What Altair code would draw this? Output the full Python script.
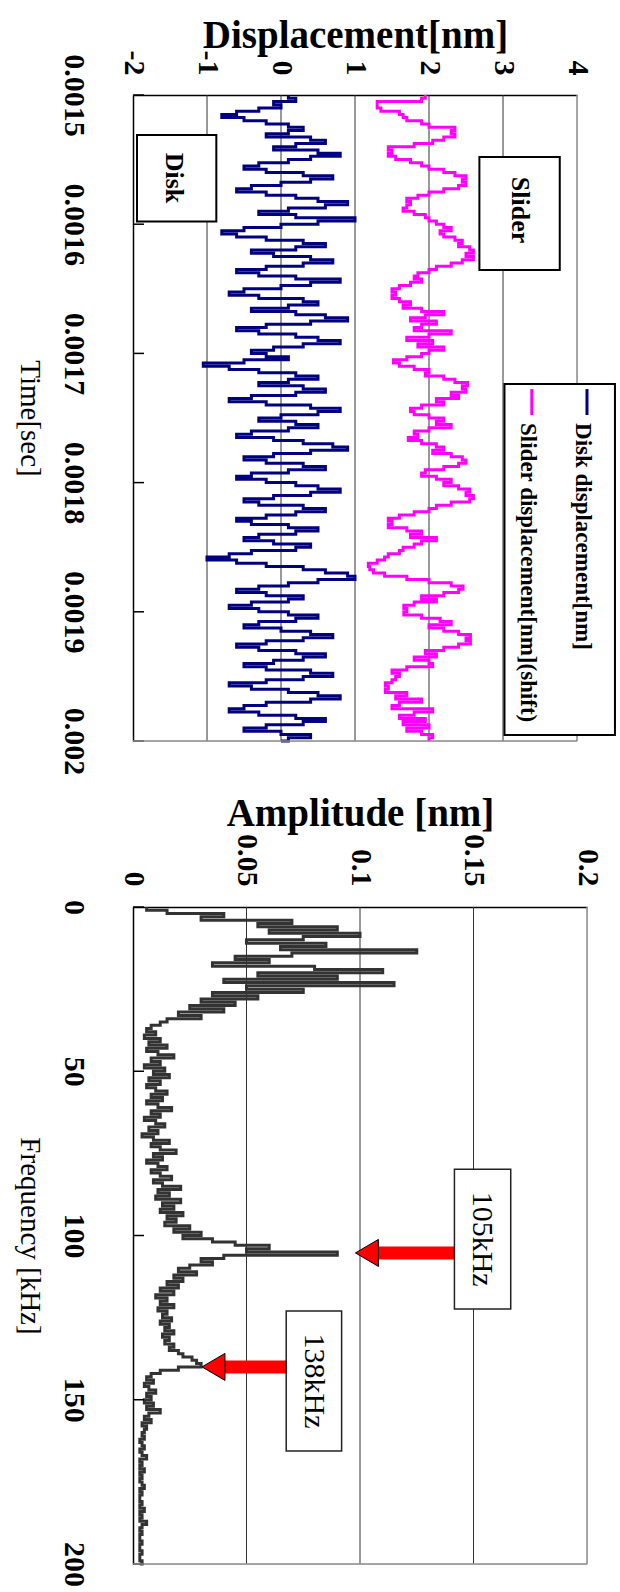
import altair as alt
import pandas as pd

FONT = "Liberation Serif"

# ---------------- data: time-domain displacement (2.5 us sampling) ----------------
time_s = [round(0.0015 + i * 0.0000025, 8) for i in range(201)]

disk = [
    0.1, 0.2, -0.1, 0.0, -0.3, -0.6, -0.8, -0.5, -0.2, 0.1,
    0.3, 0.1, -0.2, 0.4, 0.6, 0.2, -0.1, 0.5, 0.8, 0.4,
    0.1, -0.3, -0.5, -0.2, 0.3, 0.7, 0.4, 0.0, -0.4, -0.6,
    -0.2, 0.2, 0.5, 0.9, 0.6, 0.1, -0.3, 0.2, 1.0, 0.5,
    0.0, -0.5, -0.8, -0.6, -0.2, 0.3, 0.6, 0.2, -0.4, -0.1,
    0.4, 0.7, 0.3, -0.2, -0.6, -0.3, 0.2, 0.8, 0.4, 0.0,
    -0.5, -0.7, -0.3, 0.3, 0.5, 0.1, -0.4, 0.2, 0.6, 0.9,
    0.4, -0.2, -0.6, -0.3, 0.2, 0.5, 0.8, 0.3, -0.1, -0.4,
    -0.2, 0.1, -0.5, -1.05, -0.7, -0.3, 0.2, 0.5, 0.1, -0.3,
    0.3, 0.6, 0.2, -0.4, -0.7, -0.2, 0.4, 0.8, 0.5, 0.0,
    -0.3, 0.2, 0.5, 0.1, -0.4, -0.6, -0.1, 0.3, 0.7, 0.9,
    0.4, -0.1, -0.5, -0.2, 0.3, 0.6, 0.1, -0.4, -0.6, -0.2,
    0.2, 0.5, 0.8, 0.4, -0.1, -0.5, -0.3, 0.3, 0.6, 0.2,
    -0.2, -0.6, -0.4, 0.1, 0.5, 0.2, -0.3, -0.5, -0.1, 0.4,
    0.2, -0.4, -0.7, -1.0, -0.6, -0.2, 0.3, 0.6, 0.9, 1.0,
    0.5, 0.1, -0.3, -0.6, -0.2, 0.3, 0.1, -0.4, -0.7, -0.3,
    0.1, 0.5, 0.2, -0.3, -0.5, 0.0, 0.4, 0.7, 0.3, -0.2,
    -0.6, -0.3, 0.2, 0.6, 0.3, -0.1, -0.5, -0.2, 0.4, 0.7,
    0.3, -0.2, -0.7, -0.4, 0.1, 0.5, 0.8, 0.4, -0.2, -0.5,
    -0.7, -0.3, 0.2, 0.6, 0.3, -0.2, -0.5, 0.0, 0.4, 0.1,
    0.0,
]

slider = [
    1.95, 1.9, 1.3, 1.3, 1.35, 1.6, 1.65, 1.7, 1.9, 2.0,
    2.35, 2.3, 2.35, 2.2, 2.05, 1.8, 1.45, 1.5, 1.45, 1.55,
    1.75, 1.9, 2.0, 2.2, 2.35, 2.5, 2.45, 2.5, 2.4, 2.2,
    2.0, 1.85, 1.7, 1.75, 1.7, 1.65, 1.8, 1.95, 2.0, 2.1,
    2.2, 2.3, 2.15, 2.2, 2.35, 2.45, 2.4, 2.55, 2.6, 2.5,
    2.6, 2.45, 2.3, 2.1, 2.0, 1.85, 1.8, 1.9, 1.75, 1.6,
    1.5, 1.55, 1.5, 1.6, 1.75, 1.65, 1.9, 2.2, 1.95, 1.75,
    2.1, 1.9, 1.8, 2.3, 2.0, 1.7, 2.05, 1.85, 2.2, 2.0,
    1.9, 1.7, 1.52, 1.6, 1.8, 2.0, 1.95, 2.2, 2.35, 2.52,
    2.45, 2.5, 2.3, 2.4, 2.1, 2.2, 1.9, 1.75, 1.8, 2.0,
    2.2, 2.1, 2.3, 2.0, 1.8, 1.85, 1.72, 1.9, 2.1, 2.2,
    2.05, 2.3, 2.45, 2.5, 2.4, 2.2, 1.95, 1.9, 2.1, 2.3,
    2.2, 2.4, 2.55, 2.5, 2.6, 2.55, 2.3, 2.1, 2.0, 1.8,
    1.6, 1.45, 1.5, 1.45, 1.7, 1.9, 1.75, 2.1, 1.9, 1.8,
    1.65, 1.6, 1.45, 1.4, 1.3, 1.18, 1.2, 1.25, 1.4, 1.7,
    2.0, 2.3, 2.46, 2.4, 2.2, 1.9, 2.1, 1.8, 1.66, 1.7,
    1.66, 1.9, 2.15, 2.3, 2.0, 2.2, 2.4, 2.56, 2.5, 2.56,
    2.4, 2.2, 1.95, 2.1, 1.8, 2.0, 2.05, 1.7, 1.5, 1.6,
    1.55, 1.5, 1.41, 1.45, 1.41, 1.7, 1.55, 1.9, 1.6, 1.5,
    2.05, 1.8, 1.6, 1.95, 1.65, 2.0, 1.7, 1.9, 2.05, 2.0,
    2.0,
]

series_names = ["Disk displacement[nm]", "Slider displacement[nm](shift)"]
series_colors = ["#000080", "#FF00FF"]
time_ticks = [0.0015, 0.0016, 0.0017, 0.0018, 0.0019, 0.002]
disp_ticks = [-2, -1, 0, 1, 2, 3, 4]
disp_grid = [-1, 0, 1, 2, 3]

# ---------------- data: spectrum ----------------
freq_khz = list(range(0, 201))
amplitude = [
    0.006, 0.015, 0.04, 0.03, 0.07, 0.055, 0.09, 0.06, 0.1, 0.075,
    0.05, 0.085, 0.065, 0.125, 0.07, 0.045, 0.06, 0.035, 0.08, 0.11,
    0.055, 0.09, 0.04, 0.115, 0.05, 0.075, 0.035, 0.055, 0.03, 0.045,
    0.025, 0.04, 0.02, 0.03, 0.015, 0.012, 0.008, 0.006, 0.01, 0.005,
    0.012, 0.007, 0.015, 0.006, 0.011, 0.018, 0.008, 0.012, 0.005, 0.014,
    0.009, 0.016, 0.007, 0.012, 0.006, 0.01, 0.015, 0.008, 0.013, 0.006,
    0.011, 0.017, 0.008, 0.012, 0.005, 0.01, 0.014, 0.007, 0.011, 0.004,
    0.009, 0.016, 0.008, 0.012, 0.019, 0.009, 0.013, 0.006, 0.011, 0.015,
    0.008, 0.012, 0.017, 0.009, 0.013, 0.021, 0.011, 0.016, 0.01, 0.021,
    0.013, 0.018, 0.012, 0.022, 0.015, 0.019, 0.014, 0.025, 0.018, 0.03,
    0.022, 0.035, 0.045, 0.06, 0.05, 0.09, 0.04, 0.03, 0.035, 0.025,
    0.02, 0.028, 0.018, 0.022, 0.015, 0.02, 0.012, 0.018, 0.01, 0.015,
    0.012, 0.018, 0.011, 0.015, 0.013, 0.017, 0.012, 0.016, 0.014, 0.018,
    0.013, 0.016, 0.014, 0.018, 0.016, 0.02, 0.022, 0.026, 0.028, 0.03,
    0.02, 0.012, 0.008, 0.006, 0.009, 0.005, 0.007, 0.01, 0.006, 0.008,
    0.005, 0.009, 0.006, 0.012, 0.007, 0.005, 0.008, 0.004, 0.006, 0.005,
    0.004, 0.005, 0.003, 0.004, 0.005, 0.003, 0.004, 0.006, 0.003, 0.004,
    0.003, 0.005, 0.003, 0.004, 0.003, 0.004, 0.005, 0.003, 0.004, 0.003,
    0.003, 0.004, 0.003, 0.005, 0.003, 0.004, 0.003, 0.006, 0.004, 0.003,
    0.004, 0.003, 0.003, 0.004, 0.003, 0.003, 0.004, 0.003, 0.003, 0.004,
    0.003,
]
freq_ticks = [0, 50, 100, 150, 200]
amp_ticks = [0, 0.05, 0.1, 0.15, 0.2]
amp_grid = [0.05, 0.1, 0.15]

# ---------------- annotations (data coordinates) ----------------
top_boxes = pd.DataFrame({
    "x0": [-1.946, 2.681], "x1": [-0.874, 3.767],
    "t0": [0.001531, 0.001548], "t1": [0.001598, 0.0016354],
})
top_texts = pd.DataFrame({"x": [-1.443, 3.226], "t": [0.0015642, 0.001589], "label": ["Disk", "Slider"]})
legend_box = pd.DataFrame({"x0": [3.02], "x1": [4.513], "t0": [0.0017237], "t1": [0.0019954]})
legend_sym = pd.DataFrame({"x": [4.135, 3.389], "t0": [0.0017276, 0.0017276], "t1": [0.0017477, 0.0017477],
                           "s": series_names})
legend_txt = pd.DataFrame({"x": [4.08, 3.335], "t": [0.0017539, 0.0017539], "label": series_names})

bot_boxes = pd.DataFrame({"a0": [0.1416, 0.0675], "a1": [0.1664, 0.0919],
                          "f0": [79.8, 123.0], "f1": [122.4, 165.6]})
bot_texts = pd.DataFrame({"a": [0.1538, 0.0797], "f": [101.1, 144.3], "label": ["105kHz", "138kHz"]})
arrows = pd.DataFrame({"tip": [0.098, 0.0304], "tail": [0.1416, 0.0675], "f": [105.3, 140.0]})

# ---------------- shared axes ----------------
lab = dict(labelAngle=90, labelFont=FONT, labelFontSize=30, labelFontWeight="bold", labelColor="black",
           grid=False, ticks=False, domainColor="black", domainWidth=1.5)

x_axis_top = alt.Axis(orient="top", values=disp_ticks, title="Displacement[nm]",
                      labelExpr="toString(datum.value)",
                      labelAlign="right", labelBaseline="middle", labelPadding=20,
                      titleFont=FONT, titleFontSize=39, titleFontWeight="bold", titleColor="black",
                      titlePadding=-5, **lab)
y_axis_top = alt.Axis(values=time_ticks, format=".4~f", title="Time[sec]",
                      labelAlign="center", labelBaseline="top", labelPadding=45,
                      titleFont=FONT, titleFontSize=29, titleFontWeight="normal", titleColor="black",
                      titleAngle=90, titleBaseline="top", titlePadding=15, **lab)
x_axis_bot = alt.Axis(orient="top", values=amp_ticks, title="Amplitude [nm]",
                      labelExpr="toString(datum.value)",
                      labelAlign="right", labelBaseline="middle", labelPadding=21,
                      titleFont=FONT, titleFontSize=39, titleFontWeight="bold", titleColor="black",
                      titlePadding=0, **lab)
y_axis_bot = alt.Axis(values=freq_ticks, title="Frequency [kHz]",
                      labelAlign="center", labelBaseline="top", labelPadding=45,
                      titleFont=FONT, titleFontSize=29, titleFontWeight="normal", titleColor="black",
                      titleAngle=90, titleBaseline="top", titlePadding=15, **lab)

# ---------------- top chart ----------------
x_sc = alt.Scale(domain=[-2, 4], nice=False, zero=False)
t_sc = alt.Scale(domain=[0.0015, 0.002], nice=False, zero=False, reverse=True)


def X(f):
    return alt.X(f, scale=x_sc, axis=x_axis_top)


def T(f):
    return alt.Y(f, scale=t_sc, axis=y_axis_top)


ts_df = pd.DataFrame({
    "t": time_s + time_s,
    "v": disk + slider,
    "s": [series_names[0]] * len(time_s) + [series_names[1]] * len(time_s),
})
color_enc = alt.Color("s:N", scale=alt.Scale(domain=series_names, range=series_colors), legend=None)

grid_top = alt.Chart(pd.DataFrame({"g": disp_grid})).mark_rule(color="#333333", strokeWidth=1).encode(
    x=X("g:Q"))

lines_top = alt.Chart(ts_df).mark_line(strokeWidth=3, interpolate="step-before").encode(
    x=X("v:Q"), y=T("t:Q"), color=color_enc, order=alt.Order("t:Q"))

ticks_top = alt.Chart(pd.DataFrame({"t": time_ticks})).mark_rule(color="black", strokeWidth=1.5).encode(
    y=T("t:Q"), x=alt.value(0), x2=alt.value(11))

right_top = alt.Chart(pd.DataFrame({"x": [4], "t0": [0.0015], "t1": [0.002]})).mark_rule(
    color="#8c8c8c", strokeWidth=1.5).encode(x=X("x:Q"), y=T("t0:Q"), y2="t1:Q")
bottom_top = alt.Chart(pd.DataFrame({"x0": [-2], "x1": [4], "t": [0.002]})).mark_rule(
    color="#8c8c8c", strokeWidth=1.5).encode(x=X("x0:Q"), x2="x1:Q", y=T("t:Q"))

boxes_top = alt.Chart(top_boxes).mark_rect(fill="white", stroke="black", strokeWidth=2).encode(
    x=X("x0:Q"), x2="x1:Q", y=T("t0:Q"), y2="t1:Q")
texts_top = alt.Chart(top_texts).mark_text(angle=90, font=FONT, fontSize=26, fontWeight="bold",
                                           align="center", baseline="middle", color="black").encode(
    x=X("x:Q"), y=T("t:Q"), text="label:N")

leg_box = alt.Chart(legend_box).mark_rect(fill="white", stroke="black", strokeWidth=2).encode(
    x=X("x0:Q"), x2="x1:Q", y=T("t0:Q"), y2="t1:Q")
leg_sym = alt.Chart(legend_sym).mark_rule(strokeWidth=3).encode(
    x=X("x:Q"), y=T("t0:Q"), y2="t1:Q", color=color_enc)
leg_txt = alt.Chart(legend_txt).mark_text(angle=90, font=FONT, fontSize=23, fontWeight="bold",
                                          align="left", baseline="middle", color="black").encode(
    x=X("x:Q"), y=T("t:Q"), text="label:N")

top = alt.layer(grid_top, lines_top, ticks_top, right_top, bottom_top, boxes_top, texts_top,
                leg_box, leg_sym, leg_txt).properties(width=444, height=646)

# ---------------- bottom chart ----------------
a_sc = alt.Scale(domain=[0, 0.2], nice=False, zero=False)
f_sc = alt.Scale(domain=[0, 200], nice=False, zero=False, reverse=True)


def A(f):
    return alt.X(f, scale=a_sc, axis=x_axis_bot)


def F(f):
    return alt.Y(f, scale=f_sc, axis=y_axis_bot)


spec_df = pd.DataFrame({"f": freq_khz, "a": amplitude})

grid_bot = alt.Chart(pd.DataFrame({"g": amp_grid})).mark_rule(color="#333333", strokeWidth=1).encode(
    x=A("g:Q"))

spec = alt.Chart(spec_df).mark_line(color="#333333", strokeWidth=3, interpolate="step-before").encode(
    x=A("a:Q"), y=F("f:Q"), order=alt.Order("f:Q"))

ticks_bot = alt.Chart(pd.DataFrame({"f": freq_ticks})).mark_rule(color="black", strokeWidth=1.5).encode(
    y=F("f:Q"), x=alt.value(0), x2=alt.value(11))

right_bot = alt.Chart(pd.DataFrame({"a": [0.2], "f0": [0], "f1": [200]})).mark_rule(
    color="#8c8c8c", strokeWidth=1.5).encode(x=A("a:Q"), y=F("f0:Q"), y2="f1:Q")
bottom_bot = alt.Chart(pd.DataFrame({"a0": [0], "a1": [0.2], "f": [200]})).mark_rule(
    color="#8c8c8c", strokeWidth=1.5).encode(x=A("a0:Q"), x2="a1:Q", y=F("f:Q"))

arrow_shaft = alt.Chart(arrows).mark_rule(color="#FF0000", strokeWidth=13).encode(
    x=A("tip:Q"), x2="tail:Q", y=F("f:Q"), xOffset=alt.value(14))
arrow_head = alt.Chart(arrows).mark_point(
    shape="M -1 0 L 0.7 -1 L 0.7 1 Z", size=729, filled=True, fill="#FF0000", stroke="black",
    strokeWidth=1, opacity=1).encode(
    x=A("tip:Q"), y=F("f:Q"), xOffset=alt.value(13.5))

boxes_bot = alt.Chart(bot_boxes).mark_rect(fill="white", stroke="#222222", strokeWidth=1.5).encode(
    x=A("a0:Q"), x2="a1:Q", y=F("f0:Q"), y2="f1:Q")
texts_bot = alt.Chart(bot_texts).mark_text(angle=90, font=FONT, fontSize=30, fontWeight="normal",
                                           align="center", baseline="middle", color="black").encode(
    x=A("a:Q"), y=F("f:Q"), text="label:N")

bottom = alt.layer(grid_bot, spec, ticks_bot, right_bot, bottom_bot, arrow_shaft, arrow_head,
                   boxes_bot, texts_bot).properties(width=454, height=657)

chart = alt.vconcat(top, bottom, spacing=18).properties(
    padding={"left": 13, "top": 15, "right": 0, "bottom": 0}
).configure_view(stroke=None).configure(background="white")

chart.save("out.html", embed_options={"renderer": "svg", "actions": False})
